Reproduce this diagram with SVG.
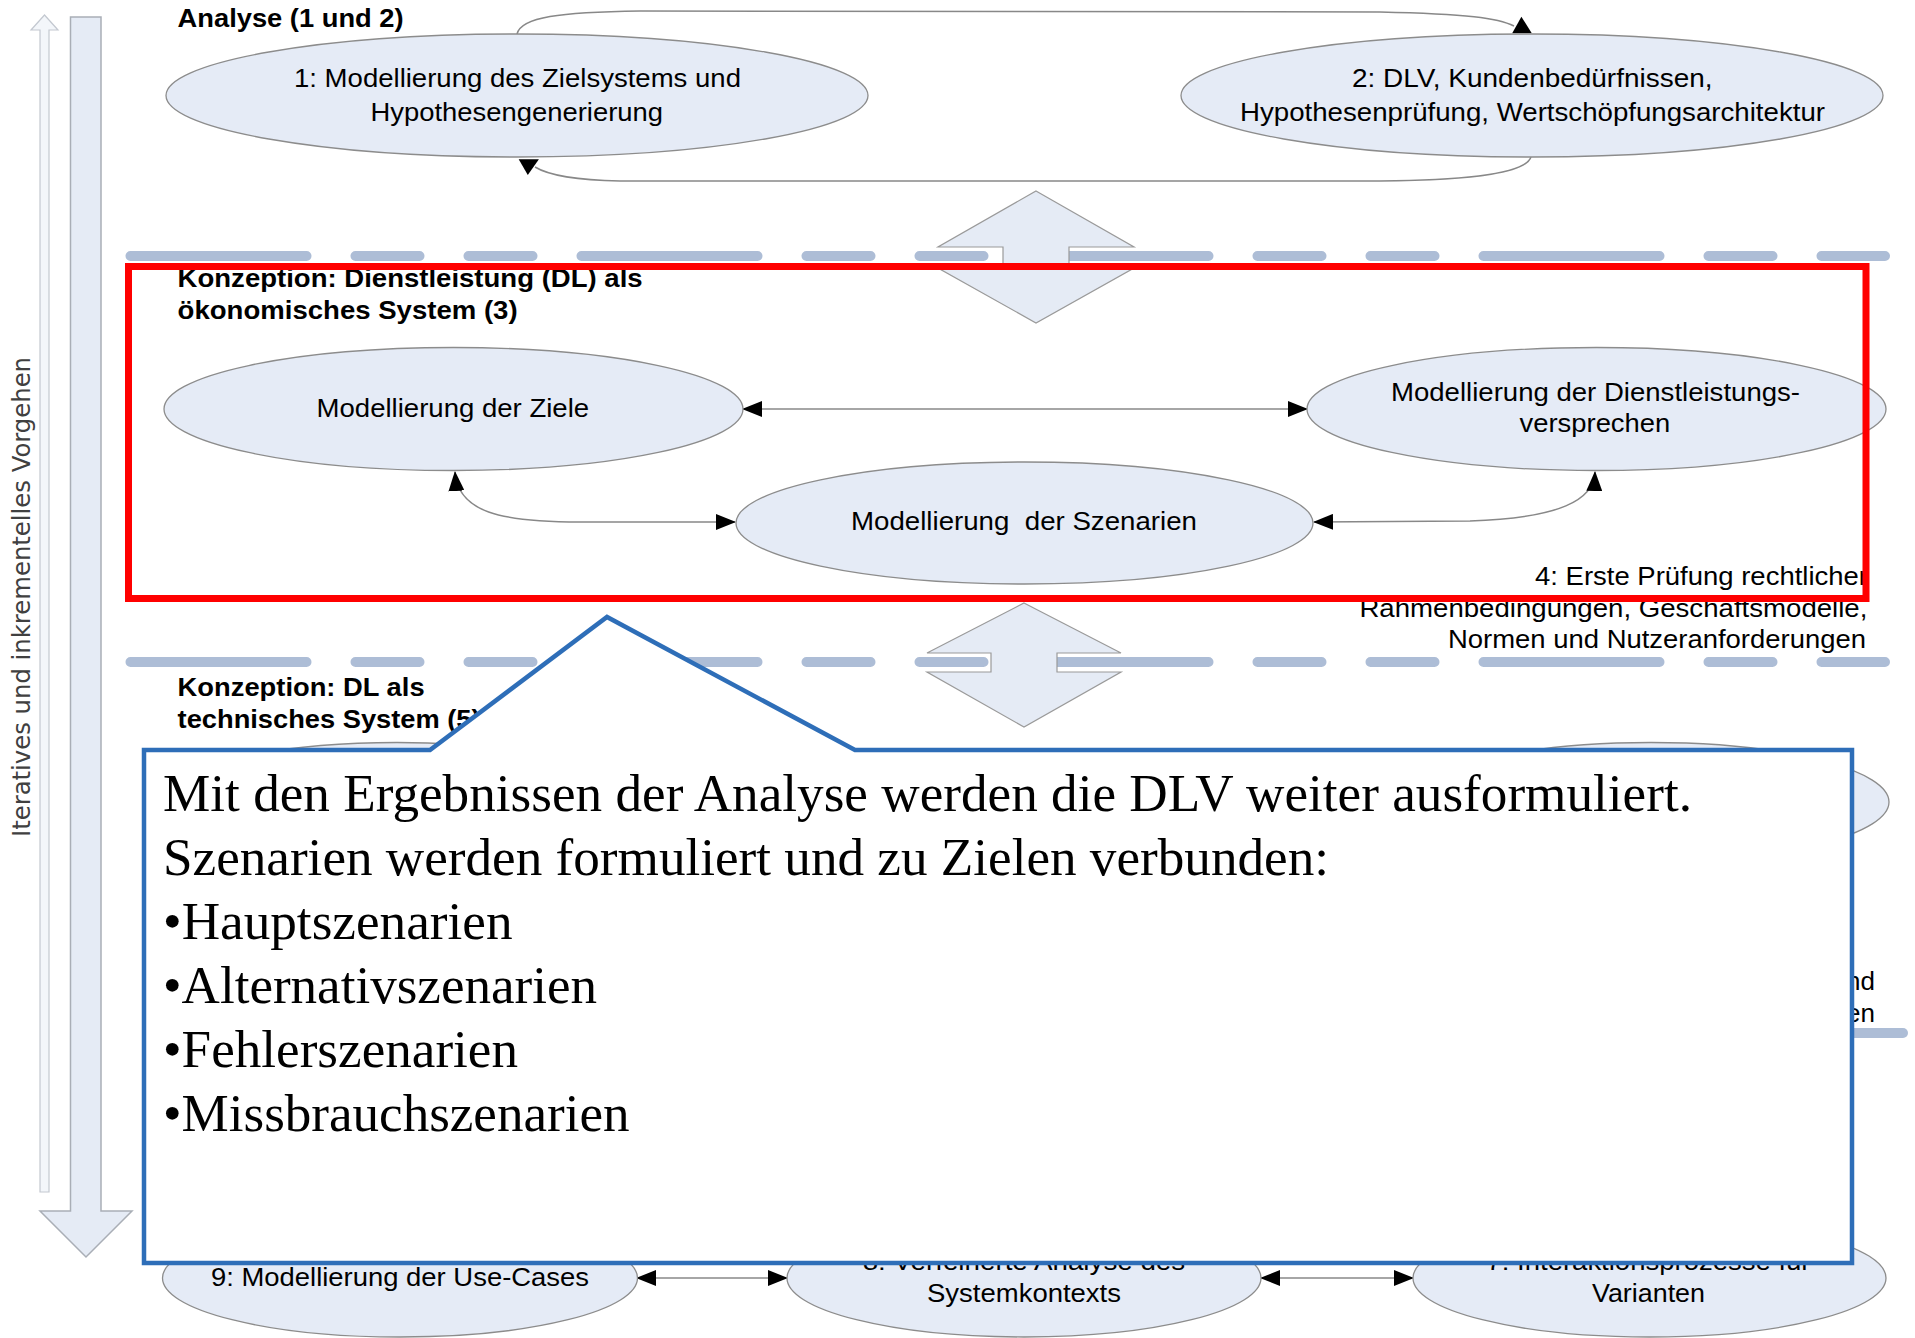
<svg xmlns="http://www.w3.org/2000/svg" width="1915" height="1338" viewBox="0 0 1915 1338">
<style>
.bg{fill:#ffffff}
.ell{fill:#e5ebf6;stroke:#8c8c8c;stroke-width:1.3}
.t{font-family:"Liberation Sans",Arial,sans-serif;font-size:26px;fill:#000}
.b{font-weight:bold}
.conn{fill:none;stroke:#888888;stroke-width:1.5}
.dash{fill:none;stroke:#adbdd6;stroke-width:10;stroke-linecap:round;stroke-dasharray:176 49 64 49 64 49}
.blk{fill:#e5ebf5;stroke:#9a9a9a;stroke-width:1.2}
.ct{font-family:"Liberation Serif","Times New Roman",serif;font-size:52px;fill:#000}
.head{fill:#000}
</style>
<defs>
<marker id="ah" viewBox="0 0 20 16" refX="19" refY="8" markerWidth="20" markerHeight="16" markerUnits="userSpaceOnUse" orient="auto-start-reverse">
<path d="M0,0 L20,8 L0,16 z" fill="#000"/>
</marker>
</defs>
<rect class="bg" x="0" y="0" width="1915" height="1338"/>

<g id="process-arrows">
<polygon points="44.5,15 58,30 49,30 49,1192 40,1192 40,30 31,30" fill="#f3f6fa" stroke="#c3c8d0" stroke-width="1.2"/>
<polygon points="70.5,17 101,17 101,1211 132,1211 86,1257 40,1211 70.5,1211" fill="#e5ebf5" stroke="#a9aeb6" stroke-width="1.5"/>
<text class="t" transform="translate(30,597) rotate(-90)" x="-240" y="0" textLength="480" lengthAdjust="spacingAndGlyphs" style="font-family:'DejaVu Sans',Verdana,sans-serif;font-size:24px;fill:#404040">Iteratives und inkrementelles Vorgehen</text>
</g>

<g id="separators">
<line class="dash" x1="130.5" y1="256" x2="1885" y2="256"/>
<line class="dash" x1="130.5" y1="662" x2="1885" y2="662"/>
<line x1="1800" y1="1033" x2="1903" y2="1033" stroke="#adbdd6" stroke-width="10" stroke-linecap="round"/>
</g>

<g id="block-arrows">
<polygon class="blk" points="1036,191 1134,247 1069,247 1069,268 1134,268 1036,323 938,268 1003,268 1003,247 938,247"/>
<polygon class="blk" points="1024,603 1121,653 1057,653 1057,672 1121,672 1024,727 927,672 991,672 991,653 927,653"/>
</g>

<g id="labels">
<text class="t b" x="177.6" y="27" textLength="226" lengthAdjust="spacingAndGlyphs">Analyse (1 und 2)</text>
<text class="t b" x="177.6" y="287" textLength="465" lengthAdjust="spacingAndGlyphs">Konzeption: Dienstleistung (DL) als</text>
<text class="t b" x="177.6" y="319" textLength="340" lengthAdjust="spacingAndGlyphs">ökonomisches System (3)</text>
<text class="t b" x="177.6" y="696" textLength="247" lengthAdjust="spacingAndGlyphs">Konzeption: DL als</text>
<text class="t b" x="177.6" y="728" textLength="303" lengthAdjust="spacingAndGlyphs">technisches System (5)</text>
<text class="t" x="1535" y="585" textLength="333" lengthAdjust="spacingAndGlyphs">4: Erste Prüfung rechtlicher</text>
<text class="t" x="1359.4" y="617" textLength="508" lengthAdjust="spacingAndGlyphs">Rahmenbedingungen, Geschäftsmodelle,</text>
<text class="t" x="1448" y="648" textLength="418" lengthAdjust="spacingAndGlyphs">Normen und Nutzeranforderungen</text>
</g>

<g id="connectors">
<path class="conn" d="M517,34 C521,17 560,12 640,11 L1380,12 C1468,14 1498,18 1514,26"/>
<polygon class="head" points="1521.4,16.7 1531.8,33.3 1512.2,33.3"/>
<path class="conn" d="M1531,157 C1526,172 1480,180 1380,181 L620,181 C572,180 548,175 535,167"/>
<polygon class="head" points="527.8,175 518.7,159.3 538.9,159.3"/>
<path class="conn" d="M743,409 L1307,409" marker-start="url(#ah)" marker-end="url(#ah)"/>
<path class="conn" d="M455,472 C458,512 500,522 580,522 L735,522" marker-start="url(#ah)" marker-end="url(#ah)"/>
<path class="conn" d="M1314,522 L1470,521 C1560,518 1594,500 1595,472" marker-start="url(#ah)" marker-end="url(#ah)"/>
<path class="conn" d="M637,1278 L787,1278" marker-start="url(#ah)" marker-end="url(#ah)"/>
<path class="conn" d="M1261,1278 L1413,1278" marker-start="url(#ah)" marker-end="url(#ah)"/>
</g>

<g id="node-1">
<ellipse class="ell" cx="517" cy="95.5" rx="351" ry="61.5"/>
<text class="t" x="294" y="87" textLength="447" lengthAdjust="spacingAndGlyphs">1: Modellierung des Zielsystems und</text>
<text class="t" x="370.5" y="121" textLength="292.5" lengthAdjust="spacingAndGlyphs">Hypothesengenerierung</text>
</g>
<g id="node-2">
<ellipse class="ell" cx="1532" cy="95.5" rx="351" ry="61.5"/>
<text class="t" x="1352" y="87" textLength="360.5" lengthAdjust="spacingAndGlyphs">2: DLV, Kundenbedürfnissen,</text>
<text class="t" x="1240" y="121" textLength="585" lengthAdjust="spacingAndGlyphs">Hypothesenprüfung, Wertschöpfungsarchitektur</text>
</g>
<g id="node-ziele">
<ellipse class="ell" cx="453.5" cy="409" rx="289.5" ry="61.5"/>
<text class="t" x="316.6" y="417" textLength="272.5" lengthAdjust="spacingAndGlyphs">Modellierung der Ziele</text>
</g>
<g id="node-dlv">
<ellipse class="ell" cx="1596.5" cy="409" rx="289.5" ry="61.5"/>
<text class="t" x="1391" y="400.5" textLength="409" lengthAdjust="spacingAndGlyphs">Modellierung der Dienstleistungs-</text>
<text class="t" x="1519.6" y="432" textLength="150.6" lengthAdjust="spacingAndGlyphs">versprechen</text>
</g>
<g id="node-szenarien">
<ellipse class="ell" cx="1024.5" cy="523" rx="288.5" ry="61"/>
<text class="t" x="851" y="530" textLength="346" lengthAdjust="spacingAndGlyphs" xml:space="preserve">Modellierung  der Szenarien</text>
</g>

<g id="focus-frame">
<rect x="128.5" y="266.5" width="1737.5" height="332" fill="none" stroke="#ff0000" stroke-width="7"/>
</g>

<g id="node-5a">
<ellipse class="ell" cx="397" cy="802" rx="238" ry="59.5"/>
</g>
<g id="node-5b">
<ellipse class="ell" cx="1651" cy="802" rx="238" ry="59.5"/>
</g>
<g id="label-right">
<text class="t" x="1875" y="990" text-anchor="end">nd</text>
<text class="t" x="1875" y="1021.5" text-anchor="end">en</text>
</g>
<g id="node-9">
<ellipse class="ell" cx="400" cy="1278" rx="237.5" ry="59"/>
<text class="t" x="211" y="1286" textLength="378" lengthAdjust="spacingAndGlyphs">9: Modellierung der Use-Cases</text>
</g>
<g id="node-8">
<ellipse class="ell" cx="1024" cy="1278" rx="237" ry="59"/>
<text class="t" x="862.7" y="1270" textLength="322.5" lengthAdjust="spacingAndGlyphs">8: Verfeinerte Analyse des</text>
<text class="t" x="927" y="1302" textLength="194" lengthAdjust="spacingAndGlyphs">Systemkontexts</text>
</g>
<g id="node-7">
<ellipse class="ell" cx="1649.5" cy="1278" rx="236.5" ry="59"/>
<text class="t" x="1486.5" y="1270" textLength="324" lengthAdjust="spacingAndGlyphs">7: Interaktionsprozesse für</text>
<text class="t" x="1592" y="1302" textLength="113" lengthAdjust="spacingAndGlyphs">Varianten</text>
</g>

<g id="callout">
<path d="M144,750 L430,750 L607,617 L855,750 L1852,750 L1852,1263 L144,1263 Z" fill="#ffffff" stroke="#2e6eb8" stroke-width="4.5" stroke-linejoin="miter"/>
<text class="ct" x="163" y="811" textLength="1529" lengthAdjust="spacingAndGlyphs">Mit den Ergebnissen der Analyse werden die DLV weiter ausformuliert.</text>
<text class="ct" x="163" y="875" textLength="1166" lengthAdjust="spacingAndGlyphs">Szenarien werden formuliert und zu Zielen verbunden:</text>
<text class="ct" x="163" y="939" textLength="349.5" lengthAdjust="spacingAndGlyphs">•Hauptszenarien</text>
<text class="ct" x="163" y="1003" textLength="434" lengthAdjust="spacingAndGlyphs">•Alternativszenarien</text>
<text class="ct" x="163" y="1067" textLength="355" lengthAdjust="spacingAndGlyphs">•Fehlerszenarien</text>
<text class="ct" x="163" y="1131" textLength="466.5" lengthAdjust="spacingAndGlyphs">•Missbrauchszenarien</text>
</g>
</svg>
